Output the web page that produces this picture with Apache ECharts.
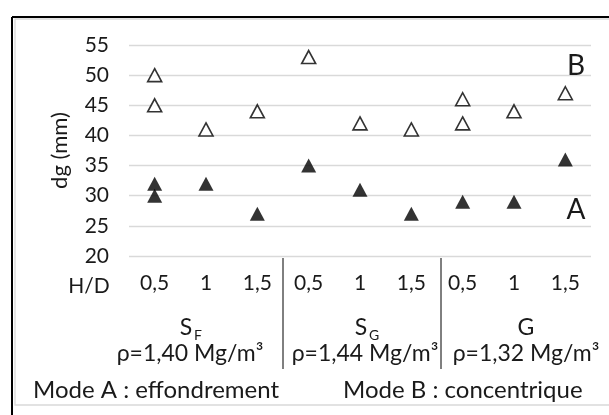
<!DOCTYPE html>
<html>
<head>
<meta charset="utf-8">
<script src="https://cdn.jsdelivr.net/npm/echarts@6/dist/echarts.min.js"></script>
<style>html,body{margin:0;padding:0;background:#fff}#c{width:609px;height:415px}</style>
</head>
<body>
<div id="c"></div>
<script>
// ---- data ----
var hdLabels = ['0,5', '1', '1,5', '0,5', '1', '1,5', '0,5', '1', '1,5'];
var modeA = [[32, 30], [32], [27], [35], [31], [27], [29], [29], [36]]; // filled triangles (effondrement)
var modeB = [[50, 45], [41], [44], [53], [42], [41], [46, 42], [44], [47]]; // open triangles (concentrique)
var yTicks = { min: 20, max: 55, step: 5 };
var groups = [
  { s: 'S', sub: 'F', rho: 'ρ=1,40 Mg/m³' },
  { s: 'S', sub: 'G', rho: 'ρ=1,44 Mg/m³' },
  { s: 'G', sub: '', rho: 'ρ=1,32 Mg/m³' }
];

function toPairs(arr) {
  var out = [];
  arr.forEach(function (vals, i) { vals.forEach(function (v) { out.push([i, v]); }); });
  return out;
}

var FONT = 'Lato';
var chart = echarts.init(document.getElementById('c'), null, { renderer: 'canvas' });

chart.setOption({
  backgroundColor: '#fff',
  animation: false,
  textStyle: { fontFamily: FONT },
  grid: { left: 129, right: 18, top: 45, bottom: 159 },
  xAxis: {
    type: 'category',
    data: hdLabels,
    boundaryGap: true,
    axisLine: { show: false },
    axisTick: { show: false },
    axisLabel: { color: '#1a1a1a', fontSize: 21, fontFamily: FONT, margin: 17, interval: 0 },
    splitLine: { show: false }
  },
  yAxis: {
    type: 'value',
    min: yTicks.min, max: yTicks.max, interval: yTicks.step,
    name: 'dg (mm)',
    nameLocation: 'middle',
    nameGap: 58,
    nameTextStyle: { color: '#1a1a1a', fontSize: 22, fontFamily: FONT },
    axisLine: { show: false },
    axisTick: { show: false },
    axisLabel: { color: '#1a1a1a', fontSize: 21, fontFamily: FONT, margin: 20 },
    splitLine: { lineStyle: { color: '#d9d9d9', width: 1.3 } }
  },
  series: [
    {
      name: 'Mode A', type: 'scatter', data: toPairs(modeA),
      symbol: 'triangle', symbolSize: [15, 14],
      itemStyle: { color: '#000' }
    },
    {
      name: 'Mode B', type: 'scatter', data: toPairs(modeB),
      symbol: 'triangle', symbolSize: [14, 13],
      itemStyle: { color: '#fff', borderColor: '#000', borderWidth: 1.6 }
    }
  ]
});

// decorations derived from the axis
var xa = function (i) { return chart.convertToPixel({ xAxisIndex: 0 }, i); };
var sep1 = (xa(2) + xa(3)) / 2;
var sep2 = (xa(5) + xa(6)) / 2 + 4;
var groupCx = [xa(1) - 16, xa(4) + 5, xa(7) + 12];
var txtColor = '#1a1a1a';

var elements = [
  // gray chart-area border
  { type: 'rect', shape: { x: 15, y: 19, width: 600, height: 386 }, style: { fill: null, stroke: '#d9d9d9', lineWidth: 1.3 }, z: 0 },
  // black outer frame (top + left)
  { type: 'line', shape: { x1: 12, y1: 17, x2: 609, y2: 17 }, style: { stroke: '#000', lineWidth: 2 } },
  { type: 'line', shape: { x1: 12, y1: 17, x2: 12, y2: 415 }, style: { stroke: '#000', lineWidth: 2 } },
  // group separators
  { type: 'line', shape: { x1: sep1, y1: 258, x2: sep1, y2: 369 }, style: { stroke: '#000', lineWidth: 1 } },
  { type: 'line', shape: { x1: sep2, y1: 258, x2: sep2, y2: 369 }, style: { stroke: '#000', lineWidth: 1 } },
  // H/D
  { type: 'text', x: 89, y: 286, style: { text: 'H/D', fill: txtColor, font: '21px ' + FONT, textAlign: 'center', textVerticalAlign: 'middle' } },
  // mode annotations
  { type: 'text', x: 576, y: 66, style: { text: 'B', fill: txtColor, font: '28px ' + FONT, textAlign: 'center', textVerticalAlign: 'middle' } },
  { type: 'text', x: 576, y: 210, style: { text: 'A', fill: txtColor, font: '28px ' + FONT, textAlign: 'center', textVerticalAlign: 'middle' } },
  { type: 'text', x: 33, y: 390, style: { text: 'Mode A : effondrement', fill: txtColor, font: '24px ' + FONT, textAlign: 'left', textVerticalAlign: 'middle' } },
  { type: 'text', x: 343, y: 390, style: { text: 'Mode B : concentrique', fill: txtColor, font: '24px ' + FONT, textAlign: 'left', textVerticalAlign: 'middle' } }
];

groups.forEach(function (g, k) {
  var cx = groupCx[k];
  if (g.sub) {
    elements.push({ type: 'text', x: cx - 4, y: 328, style: { text: g.s, fill: txtColor, font: '23px ' + FONT, textAlign: 'center', textVerticalAlign: 'middle' } });
    elements.push({ type: 'text', x: cx + 4, y: 335, style: { text: g.sub, fill: txtColor, font: '14px ' + FONT, textAlign: 'left', textVerticalAlign: 'middle' } });
  } else {
    elements.push({ type: 'text', x: cx, y: 328, style: { text: g.s, fill: txtColor, font: '23px ' + FONT, textAlign: 'center', textVerticalAlign: 'middle' } });
  }
  elements.push({ type: 'text', x: cx, y: 354, style: { text: g.rho, fill: txtColor, font: '23px ' + FONT, textAlign: 'center', textVerticalAlign: 'middle' } });
});

chart.setOption({ graphic: { elements: elements } });
</script>
</body>
</html>
